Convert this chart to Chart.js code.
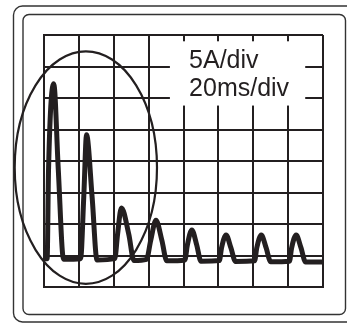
<!DOCTYPE html>
<html>
<head>
<meta charset="utf-8">
<script src="https://cdn.jsdelivr.net/npm/chart.js@4/dist/chart.umd.min.js"></script>
<style>
  html, body { margin: 0; padding: 0; background: #fff; }
  #wrap { width: 347px; height: 325px; }
</style>
</head>
<body>
<div id="wrap"><canvas id="scope" width="347" height="325"></canvas></div>
<script>
// trace, in divisions (x: 20ms/div, y: 5A/div)
const waveX = [0.00, 0.09, 0.13, 0.28, 0.41, 0.56,
  1.05, 1.14, 1.22, 1.38, 1.52,
  2.03, 2.11, 2.22, 2.43, 2.58,
  2.94, 3.06, 3.21, 3.38, 3.52,
  4.04, 4.11, 4.24, 4.38, 4.50,
  5.03, 5.09, 5.22, 5.36, 5.49,
  6.04, 6.10, 6.23, 6.37, 6.50,
  7.04, 7.10, 7.23, 7.37, 7.50, 8.00];
const waveY = [0.90, 0.90, 3.72, 6.45, 3.72, 0.88,
  0.90, 2.85, 4.83, 2.85, 0.86,
  0.90, 1.68, 2.51, 1.68, 0.84,
  0.88, 1.48, 2.12, 1.48, 0.83,
  0.86, 1.33, 1.81, 1.33, 0.82,
  0.84, 1.24, 1.65, 1.24, 0.81,
  0.83, 1.24, 1.65, 1.24, 0.80,
  0.82, 1.24, 1.65, 1.24, 0.79, 0.79];
const divLabels = ["5A/div", "20ms/div"];

const ink = "#231f20";

// overlay: frames, label box and the ellipse
const scopeDecor = {
  id: "scopeDecor",
  beforeDraw(chart) {
    const ctx = chart.ctx;
    ctx.save();
    ctx.strokeStyle = "#333";
    ctx.lineWidth = 1.4;
    ctx.beginPath();
    ctx.roundRect(13.5, 6, 345, 316, 9);
    ctx.stroke();
    ctx.beginPath();
    ctx.roundRect(23, 14.5, 322.5, 300, 6);
    ctx.stroke();
    ctx.restore();
  },
  beforeDatasetsDraw(chart) {
    const { ctx, scales: { x, y } } = chart;
    ctx.save();
    ctx.fillStyle = "#fff";
    const x0 = x.getPixelForValue(3.61), x1 = x.getPixelForValue(7.49);
    const y0 = y.getPixelForValue(7.8), y1 = y.getPixelForValue(5.76);
    ctx.fillRect(x0, y0, x1 - x0, y1 - y0);
    ctx.fillStyle = ink;
    ctx.font = "25px 'Liberation Sans', Arial, sans-serif";
    ctx.textBaseline = "alphabetic";
    ctx.fillText(divLabels[0], x.getPixelForValue(4.16), y.getPixelForValue(6.96));
    ctx.fillText(divLabels[1], x.getPixelForValue(4.16), y.getPixelForValue(6.05));
    ctx.restore();
  },
  afterDatasetsDraw(chart) {
    const { ctx, scales: { x, y } } = chart;
    const cx = x.getPixelForValue(1.2), cy = y.getPixelForValue(3.79);
    const rx = x.getPixelForValue(1.2 + 2.04) - cx;
    const ry = cy - y.getPixelForValue(3.79 + 3.69);
    ctx.save();
    ctx.strokeStyle = ink;
    ctx.lineWidth = 2.2;
    ctx.beginPath();
    ctx.ellipse(cx, cy, rx, ry, 0, 0, Math.PI * 2);
    ctx.stroke();
    ctx.restore();
  }
};

const gridOpts = {
  type: "linear",
  min: 0,
  max: 8,
  ticks: { display: false, stepSize: 1 },
  grid: { color: ink, lineWidth: 2, drawTicks: false },
  border: { color: ink, width: 2 }
};

new Chart(document.getElementById("scope"), {
  type: "line",
  data: {
    datasets: [{
      data: waveX.map((v, i) => ({ x: v, y: waveY[i] })),
      borderColor: ink,
      borderWidth: 5,
      borderJoinStyle: "round",
      pointRadius: 0,
      cubicInterpolationMode: "monotone",
      fill: false
    }]
  },
  options: {
    responsive: false,
    animation: false,
    devicePixelRatio: 1,
    layout: { padding: { left: 44, top: 35, right: 24, bottom: 38 } },
    plugins: { legend: { display: false }, tooltip: { enabled: false } },
    scales: { x: { ...gridOpts }, y: { ...gridOpts } }
  },
  plugins: [scopeDecor]
});
</script>
</body>
</html>
